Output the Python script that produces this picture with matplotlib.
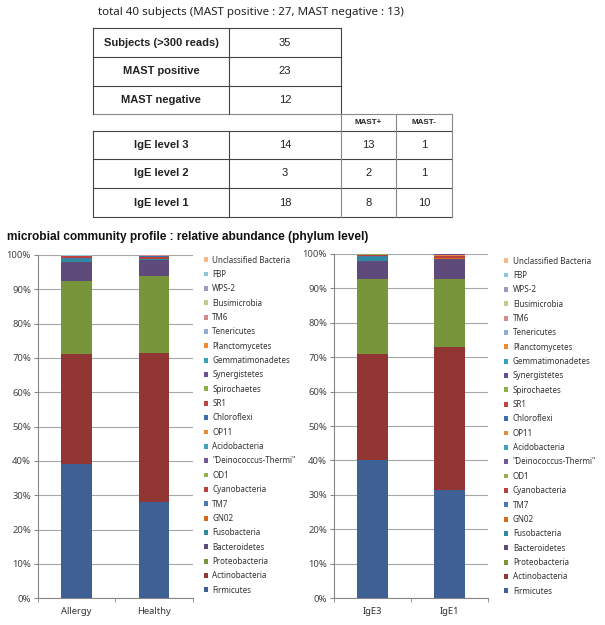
import numpy as np
import matplotlib
matplotlib.use("Agg")
import matplotlib.pyplot as plt
from matplotlib.patches import Patch
from matplotlib.ticker import PercentFormatter, FixedLocator

# ---- table data ----
table_title = "total 40 subjects (MAST positive : 27, MAST negative : 13)"
summary_labels = ["Subjects (>300 reads)", "MAST positive", "MAST negative"]
summary_counts = [35, 23, 12]
ige_labels = ["IgE level 3", "IgE level 2", "IgE level 1"]
ige_total = [14, 3, 18]
ige_mast_pos = [13, 2, 8]
ige_mast_neg = [1, 1, 10]
mast_cols = ["MAST+", "MAST-"]

# ---- abundance data (bottom -> top of stack), percent ----
section_title = "microbial community profile : relative abundance (phylum level)"
phyla = ["Firmicutes", "Actinobacteria", "Proteobacteria", "Bacteroidetes",
         "Fusobacteria", "GN02", "TM7", "Cyanobacteria", "OD1",
         '"Deinococcus-Thermi"', "Acidobacteria", "OP11", "Chloroflexi", "SR1",
         "Spirochaetes", "Synergistetes", "Gemmatimonadetes", "Planctomycetes",
         "Tenericutes", "TM6", "Elusimicrobia", "WPS-2", "FBP",
         "Unclassified Bacteria"]
groups_left = ["Allergy", "Healthy"]
allergy = [39.2, 32.0, 21.1, 5.7, 0.8, 0.05, 0.4, 0.15, 0.03, 0.05, 0.02, 0.02,
           0.03, 0.05, 0.05, 0.03, 0.02, 0.02, 0.05, 0.03, 0.02, 0.02, 0.02, 0.14]
healthy = [28.0, 43.4, 22.4, 4.8, 0.2, 0.05, 0.1, 0.43, 0.02, 0.1, 0.02, 0.02,
           0.05, 0.05, 0.02, 0.1, 0.02, 0.02, 0.03, 0.05, 0.02, 0.05, 0.02, 0.03]
groups_right = ["IgE3", "IgE1"]
ige3 = [40.0, 31.0, 21.6, 5.3, 1.0, 0.1, 0.3, 0.2, 0.03, 0.05, 0.05, 0.03,
        0.05, 0.05, 0.03, 0.03, 0.02, 0.02, 0.05, 0.03, 0.01, 0.02, 0.01, 0.02]
ige1 = [31.5, 41.3, 19.8, 5.8, 0.2, 0.1, 0.1, 0.5, 0.03, 0.1, 0.02, 0.1,
        0.05, 0.1, 0.03, 0.05, 0.02, 0.05, 0.03, 0.05, 0.02, 0.05, 0.02, 0.03]

colors = ["#3E6094", "#923633", "#78953B", "#5F4A7C", "#2E8A9E", "#D46A1E",
          "#4A78B0", "#B8403D", "#92B24E", "#73599A", "#3FA5BF", "#E9893A",
          "#3A6FA8", "#C04441", "#8CB04A", "#6A4D92", "#36A2BF", "#F08A30",
          "#8EACD6", "#D38C8B", "#B9CE8E", "#A797C0", "#8DC8D8", "#F6B98A"]

W, H = 605, 625
fig = plt.figure(figsize=(W / 100, H / 100), dpi=100)

# ---- canvas in pixel coords for the table ----
cv = fig.add_axes([0, 0, 1, 1])
cv.set_xlim(0, W); cv.set_ylim(H, 0); cv.axis("off")

tf = "Liberation Sans"
lc = "#444444"
cv.text(251, 13, table_title, ha="center", va="center", fontsize=8.3, family="Noto Sans", color="#222222")

xs = [93, 229, 341, 396, 452]
ys_top = [28, 57, 86, 114]
ys_bot = [131, 159, 188, 217]

def hline(y, x0, x1, c=lc):
    cv.plot([x0, x1], [y, y], color=c, lw=0.8)

def vline(x, y0, y1, c=lc):
    cv.plot([x, x], [y0, y1], color=c, lw=0.8)

for y in ys_top[:-1]:
    hline(y, xs[0], xs[2])
hline(ys_top[-1], xs[0], xs[4], c="#888888")
for x in xs[:3]:
    vline(x, ys_top[0], ys_top[-1])
for y in ys_bot:
    hline(y, xs[0], xs[4])
for x in xs[2:]:
    vline(x, ys_top[-1], ys_bot[-1], c="#888888")
for x in xs[:2]:
    vline(x, ys_bot[0], ys_bot[-1])

for i, (lab, n) in enumerate(zip(summary_labels, summary_counts)):
    yc = (ys_top[i] + ys_top[i + 1]) / 2
    cv.text((xs[0] + xs[1]) / 2, yc, lab, ha="center", va="center", fontsize=8, weight="bold", family=tf, color="#222222")
    cv.text((xs[1] + xs[2]) / 2, yc, str(n), ha="center", va="center", fontsize=8, family=tf, color="#222222")
for j, lab in enumerate(mast_cols):
    cv.text((xs[2 + j] + xs[3 + j]) / 2, (ys_top[-1] + ys_bot[0]) / 2, lab, ha="center", va="center",
            fontsize=5.8, weight="bold", family=tf, color="#222222")
for i, lab in enumerate(ige_labels):
    yc = (ys_bot[i] + ys_bot[i + 1]) / 2
    cv.text((xs[0] + xs[1]) / 2, yc, lab, ha="center", va="center", fontsize=8, weight="bold", family=tf, color="#222222")
    for j, v in enumerate([ige_total[i], ige_mast_pos[i], ige_mast_neg[i]]):
        cv.text((xs[1 + j] + xs[2 + j]) / 2, yc, str(v), ha="center", va="center", fontsize=8, family=tf, color="#222222")

cv.text(7, 237, section_title, ha="left", va="center", fontsize=8.6, weight="bold", family=tf, color="#111111")

# ---- stacked bar panels ----
def panel(rect, groups, series, legend_xy):
    ax = fig.add_axes(rect)
    x = np.arange(len(groups))
    bottom = np.zeros(len(groups))
    data = np.array(series, dtype=float) / 100.0  # groups x phyla
    for k, name in enumerate(phyla):
        vals = data[:, k]
        ax.bar(x, vals, bottom=bottom, width=0.4, color=colors[k], zorder=3)
        bottom += vals
    ax.set_xlim(-0.5, len(groups) - 0.5)
    ax.set_ylim(0, 1)
    ax.yaxis.set_major_locator(FixedLocator(np.linspace(0, 1, 11)))
    ax.yaxis.set_major_formatter(PercentFormatter(1.0, decimals=0))
    ax.grid(axis="y", color="#A6A6A6", lw=0.8, zorder=0)
    ax.set_xticks(x)
    ax.set_xticklabels(groups)
    ax.set_xticks(np.arange(-0.5, len(groups)), minor=True)
    ax.tick_params(axis="x", which="major", length=0, pad=6, labelsize=6.8, labelcolor="#333333")
    ax.tick_params(axis="x", which="minor", length=3, color="#868686")
    ax.tick_params(axis="y", length=3, color="#868686", labelsize=6.8, labelcolor="#444444", pad=2)
    for s in ["top", "right"]:
        ax.spines[s].set_visible(False)
    for s in ["left", "bottom"]:
        ax.spines[s].set_color("#868686")
        ax.spines[s].set_linewidth(0.8)
    for lab in ax.get_xticklabels() + ax.get_yticklabels():
        lab.set_family("Noto Sans")
    handles = [Patch(facecolor=c) for c in colors]
    leg = ax.legend(handles[::-1], phyla[::-1], loc="upper left",
                    bbox_to_anchor=(legend_xy[0] / W, 1 - legend_xy[1] / H),
                    bbox_transform=fig.transFigure, frameon=False,
                    handlelength=0.55, handleheight=0.55, handletextpad=0.55,
                    labelspacing=0.665, borderpad=0, borderaxespad=0,
                    prop={"family": "Noto Sans", "size": 5.8})
    for t in leg.get_texts():
        t.set_color("#333333")
    return ax

bot = 1 - 598.3 / H
panel([38 / W, bot, (192.7 - 38) / W, (598.3 - 255) / H], groups_left,
      [allergy, healthy], (203.5, 255.5))
panel([334 / W, bot, (488 - 334) / W, (598.3 - 253.7) / H], groups_right,
      [ige3, ige1], (504, 256.5))

fig.savefig("out.png", dpi=100)
